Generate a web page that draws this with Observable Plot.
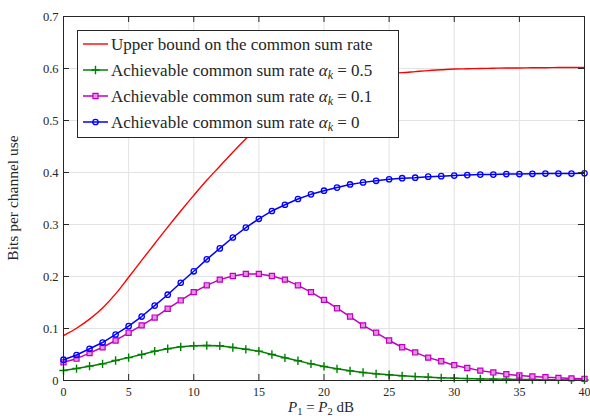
<!DOCTYPE html>
<html><head><meta charset="utf-8">
<script src="https://cdn.jsdelivr.net/npm/d3@7"></script>
<script src="https://cdn.jsdelivr.net/npm/@observablehq/plot@0.6"></script>
<style>body{margin:0;background:#fff;} svg{display:block;}</style>
</head><body><div id="chart"></div>
<script>
const power = [0,1,2,3,4,5,6,7,8,9,10,11,12,13,14,15,16,17,18,19,20,21,22,23,24,25,26,27,28,29,30,31,32,33,34,35,36,37,38,39,40];
const upperBound = [0.0865,0.1005,0.118,0.1395,0.1665,0.1985,0.231,0.263,0.295,0.326,0.356,0.385,0.412,0.439,0.465,0.49,0.513,0.533,0.549,0.562,0.572,0.579,0.584,0.587,0.589,0.5905,0.592,0.594,0.596,0.5975,0.599,0.5995,0.600,0.6005,0.601,0.601,0.6015,0.6015,0.602,0.602,0.602];
const rateA05 = [0.0192,0.023,0.0276,0.032,0.0385,0.044,0.050,0.0564,0.061,0.0647,0.0667,0.0673,0.0667,0.0635,0.060,0.0565,0.050,0.0436,0.038,0.032,0.027,0.0224,0.0186,0.0154,0.0128,0.011,0.009,0.0075,0.0064,0.0052,0.0044,0.0037,0.0031,0.0027,0.0023,0.002,0.0018,0.0016,0.0014,0.0012,0.0011];
const rateA01 = [0.035,0.042,0.0526,0.064,0.077,0.0917,0.106,0.121,0.138,0.154,0.170,0.183,0.194,0.201,0.205,0.205,0.201,0.194,0.183,0.170,0.155,0.139,0.123,0.106,0.092,0.077,0.064,0.054,0.044,0.037,0.0295,0.024,0.019,0.0155,0.012,0.0096,0.0077,0.0064,0.0051,0.004,0.0032];
const rateA0 = [0.040,0.049,0.061,0.073,0.0885,0.1045,0.123,0.144,0.165,0.188,0.210,0.233,0.254,0.275,0.294,0.311,0.326,0.338,0.349,0.358,0.365,0.371,0.377,0.381,0.384,0.387,0.389,0.390,0.392,0.393,0.394,0.395,0.396,0.396,0.397,0.397,0.3975,0.398,0.398,0.398,0.3985];
const xTicks = [0,5,10,15,20,25,30,35,40];
const yTicks = [0,0.1,0.2,0.3,0.4,0.5,0.6,0.7];
const legendLabels = ["Upper bound on the common sum rate","Achievable common sum rate","Achievable common sum rate","Achievable common sum rate"];
const legendAlphas = [null,"0.5","0.1","0"];

const W = 590, H = 416, mL = 63, mR = 6, mT = 16, mB = 36;
const fw = W - mL - mR, fh = H - mT - mB;
const colors = {red:"#ff0000", green:"#008000", magenta:"#c000c0", blue:"#0000ff"};
const mk = ys => power.map((x,i)=>({x, y: ys[i]}));
const red = mk(upperBound), g = mk(rateA05), m = mk(rateA01), b = mk(rateA0);

const svg = Plot.plot({
  width: W, height: H,
  marginLeft: mL, marginRight: mR, marginTop: mT, marginBottom: mB,
  style: {fontFamily: "Liberation Serif", fontSize: "12.5px", color: "#262626", background: "#fff"},
  x: {domain: [0,40]},
  y: {domain: [0,0.7]},
  marks: [
    Plot.ruleX(xTicks.slice(1,-1), {x: d=>d, stroke: "#e3e3e3", strokeWidth: 1}),
    Plot.ruleY(yTicks.slice(1,-1), {y: d=>d, stroke: "#e3e3e3", strokeWidth: 1}),
    Plot.line(red, {x:"x", y:"y", stroke: colors.red, strokeWidth: 1.4, curve: "monotone-x"}),
    Plot.line(g, {x:"x", y:"y", stroke: colors.green, strokeWidth: 1.5}),
    Plot.dot(g, {x:"x", y:"y", symbol: "plus", r: 2.8, stroke: colors.green, strokeWidth: 1.4}),
    Plot.line(m, {x:"x", y:"y", stroke: colors.magenta, strokeWidth: 1.5}),
    Plot.dot(m, {x:"x", y:"y", symbol: "square", r: 2.9, stroke: colors.magenta, fill: "#e58fe5", strokeWidth: 1.2}),
    Plot.line(b, {x:"x", y:"y", stroke: colors.blue, strokeWidth: 1.5}),
    Plot.dot(b, {x:"x", y:"y", symbol: "circle", r: 2.7, stroke: colors.blue, fill: "none", strokeWidth: 1.3}),
    Plot.tickX(xTicks, {x: d=>d, stroke: "#262626", insetTop: fh - 6}),
    Plot.tickX(xTicks, {x: d=>d, stroke: "#262626", insetBottom: fh - 6}),
    Plot.tickY(yTicks, {y: d=>d, stroke: "#262626", insetRight: fw - 6}),
    Plot.tickY(yTicks, {y: d=>d, stroke: "#262626", insetLeft: fw - 6}),
    Plot.frame({stroke: "#262626", strokeWidth: 1}),
    Plot.axisX({ticks: xTicks, tickSize: 0, tickPadding: 6.5, label: null, fontSize: 12, tickFormat: d=>String(d)}),
    Plot.axisY({ticks: yTicks, tickSize: 0, tickPadding: 5, label: null, tickFormat: d=> d===0 ? "0" : d.toFixed(1)})
  ]
});
document.getElementById("chart").appendChild(svg);

const s = d3.select(svg);
// Y label
s.append("text").attr("transform", `translate(18,${mT+fh/2}) rotate(-90)`)
  .attr("text-anchor","middle").attr("font-family","Liberation Serif").attr("font-size","15.5px")
  .attr("fill","#262626").text("Bits per channel use");
// X label
const xl = s.append("text").attr("x", 321).attr("y", 412).attr("text-anchor","middle")
  .attr("font-family","Liberation Serif").attr("font-size","15px").attr("fill","#262626");
xl.append("tspan").attr("font-style","italic").text("P");
xl.append("tspan").attr("font-size","10.5px").attr("dy",2.5).text("1");
xl.append("tspan").attr("dy",-2.5).text(" = ");
xl.append("tspan").attr("font-style","italic").text("P");
xl.append("tspan").attr("font-size","10.5px").attr("dy",2.5).text("2");
xl.append("tspan").attr("dy",-2.5).text(" dB");

// Legend
const lg = s.append("g");
lg.append("rect").attr("x",77.5).attr("y",30.5).attr("width",321).attr("height",107)
  .attr("fill","#fff").attr("stroke","#262626").attr("stroke-width",1);
const rowsY = [44, 70, 96, 122];
const lc = [colors.red, colors.green, colors.magenta, colors.blue];
const sym = [null, d3.symbolPlus, d3.symbolSquare, d3.symbolCircle];
const symSize = [0, 2.8*2.8*Math.PI, 2.9*2.9*Math.PI, 2.7*2.7*Math.PI];
legendLabels.forEach((lab, i) => {
  const y = rowsY[i];
  lg.append("line").attr("x1",83).attr("x2",108).attr("y1",y).attr("y2",y)
    .attr("stroke",lc[i]).attr("stroke-width", i===0?1.4:1.5);
  if (sym[i]) {
    const p = lg.append("path").attr("transform",`translate(95.5,${y})`)
      .attr("d", d3.symbol(sym[i], symSize[i])());
    if (i===1) p.attr("fill", "none").attr("stroke", lc[i]).attr("stroke-width",1.4);
    else if (i===2) p.attr("fill","#e58fe5").attr("stroke",lc[i]).attr("stroke-width",1.2);
    else p.attr("fill","none").attr("stroke",lc[i]).attr("stroke-width",1.3);
  }
  const t = lg.append("text").attr("x",111).attr("y",y+6).attr("text-anchor","start")
    .attr("font-family","Liberation Serif").attr("font-size","17px").attr("fill","#262626");
  if (legendAlphas[i] === null) {
    t.text(lab);
  } else {
    t.append("tspan").text(lab + " ");
    t.append("tspan").attr("font-style","italic").text("α");
    t.append("tspan").attr("font-style","italic").attr("font-size","12px").attr("dy",3).text("k");
    t.append("tspan").attr("dy",-3).text(" = " + legendAlphas[i]);
  }
});
</script>
</body></html>
